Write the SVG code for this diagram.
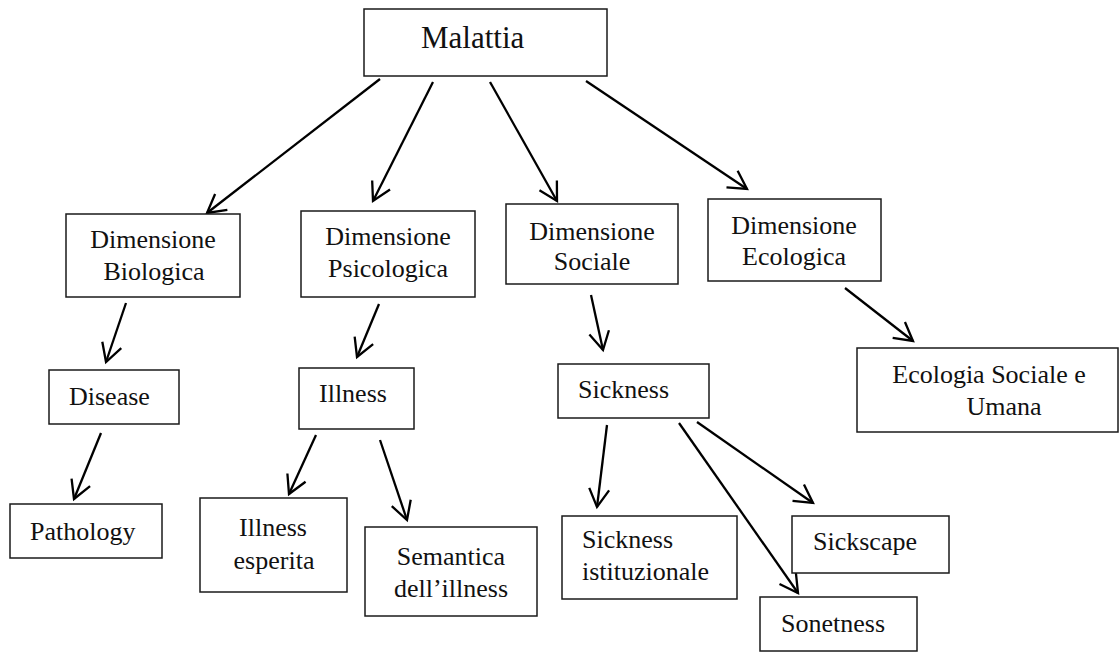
<svg xmlns="http://www.w3.org/2000/svg" width="1120" height="652" viewBox="0 0 1120 652">
  <style>
    .box { fill: #fff; stroke: #1a1a1a; stroke-width: 1.5; }
    .lbl { font-family: "Liberation Serif", "Times New Roman", "DejaVu Serif", serif; font-size: 26px; fill: #111; }
    .mid { text-anchor: middle; }
    .edge { stroke: #000; stroke-width: 2.3; fill: none; marker-end: url(#arr); }
  </style>
  <defs>
    <marker id="arr" viewBox="-22 -13 26 26" refX="0" refY="0" markerWidth="26" markerHeight="26" markerUnits="userSpaceOnUse" orient="auto">
      <path d="M-18,-10 L0,0 L-18,10" fill="none" stroke="#000" stroke-width="2.3" stroke-linejoin="miter"/>
    </marker>
  </defs>
  <rect width="1120" height="652" fill="#fff"/>

  <!-- connectors -->
  <g id="connectors">
    <line class="edge" x1="380" y1="79" x2="207" y2="213"/>
    <line class="edge" x1="433" y1="82" x2="373" y2="201"/>
    <line class="edge" x1="490" y1="82" x2="557" y2="201"/>
    <line class="edge" x1="586" y1="81" x2="747" y2="189"/>
    <line class="edge" x1="126" y1="303" x2="106" y2="362"/>
    <line class="edge" x1="379" y1="304" x2="357" y2="357"/>
    <line class="edge" x1="591" y1="295" x2="603" y2="350"/>
    <line class="edge" x1="845" y1="288" x2="913" y2="341"/>
    <line class="edge" x1="101" y1="433" x2="74" y2="499"/>
    <line class="edge" x1="316" y1="435" x2="289" y2="494"/>
    <line class="edge" x1="380" y1="440" x2="407" y2="520"/>
    <line class="edge" x1="607" y1="425" x2="597" y2="507"/>
    <line class="edge" x1="679" y1="423" x2="798" y2="593"/>
    <line class="edge" x1="697" y1="422" x2="813" y2="503"/>
  </g>

  <!-- nodes -->
  <g id="malattia">
    <rect class="box" x="364" y="9" width="243" height="67"/>
    <text class="lbl" x="421" y="48" style="font-size:31px">Malattia</text>
  </g>

  <g id="dim-biologica">
    <rect class="box" x="66" y="214" width="174" height="83"/>
    <text class="lbl mid" x="153" y="248">Dimensione</text>
    <text class="lbl mid" x="154" y="280">Biologica</text>
  </g>

  <g id="dim-psicologica">
    <rect class="box" x="301" y="211" width="174" height="86"/>
    <text class="lbl mid" x="388" y="245">Dimensione</text>
    <text class="lbl mid" x="388" y="277">Psicologica</text>
  </g>

  <g id="dim-sociale">
    <rect class="box" x="506" y="204" width="172" height="80"/>
    <text class="lbl mid" x="592" y="240">Dimensione</text>
    <text class="lbl mid" x="592" y="270">Sociale</text>
  </g>

  <g id="dim-ecologica">
    <rect class="box" x="708" y="199" width="173" height="82"/>
    <text class="lbl mid" x="794" y="234">Dimensione</text>
    <text class="lbl mid" x="794" y="265">Ecologica</text>
  </g>

  <g id="disease">
    <rect class="box" x="49" y="370" width="130" height="54"/>
    <text class="lbl" x="69" y="405">Disease</text>
  </g>

  <g id="illness">
    <rect class="box" x="299" y="368" width="115" height="61"/>
    <text class="lbl" x="319" y="402">Illness</text>
  </g>

  <g id="sickness">
    <rect class="box" x="558" y="364" width="151" height="54"/>
    <text class="lbl" x="578" y="398">Sickness</text>
  </g>

  <g id="ecologia">
    <rect class="box" x="857" y="348" width="261" height="84"/>
    <text class="lbl mid" x="989" y="383">Ecologia Sociale e</text>
    <text class="lbl mid" x="1004" y="415">Umana</text>
  </g>

  <g id="pathology">
    <rect class="box" x="10" y="504" width="152" height="54"/>
    <text class="lbl" x="30" y="540">Pathology</text>
  </g>

  <g id="illness-esperita">
    <rect class="box" x="200" y="498" width="147" height="94"/>
    <text class="lbl mid" x="273" y="536">Illness</text>
    <text class="lbl mid" x="274" y="569">esperita</text>
  </g>

  <g id="semantica">
    <rect class="box" x="365" y="527" width="172" height="89"/>
    <text class="lbl mid" x="451" y="565">Semantica</text>
    <text class="lbl mid" x="451" y="597">dell’illness</text>
  </g>

  <g id="sickness-istituzionale">
    <rect class="box" x="562" y="516" width="175" height="83"/>
    <text class="lbl" x="582" y="548">Sickness</text>
    <text class="lbl" x="582" y="580">istituzionale</text>
  </g>

  <g id="sickscape">
    <rect class="box" x="792" y="516" width="157" height="57"/>
    <text class="lbl" x="813" y="550">Sickscape</text>
  </g>

  <g id="sonetness">
    <rect class="box" x="760" y="597" width="157" height="54"/>
    <text class="lbl" x="781" y="632">Sonetness</text>
  </g>
</svg>
